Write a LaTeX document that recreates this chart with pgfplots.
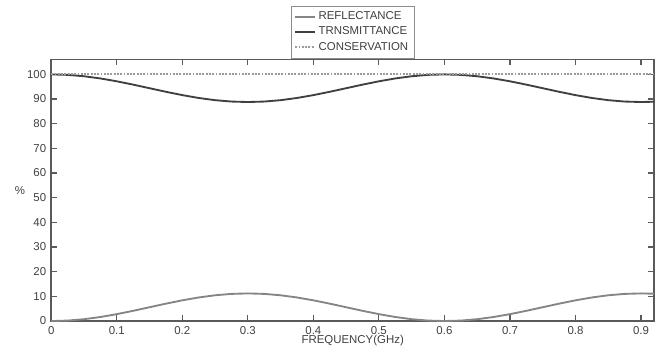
\documentclass[border=0pt]{standalone}
\usepackage{pgfplots}
\usepackage{pgfplotstable}
\pgfplotsset{compat=1.18}
\usepackage{fontspec}
\setmainfont{Liberation Sans}
\definecolor{refl}{HTML}{858585}
\definecolor{trans}{HTML}{404040}
\definecolor{cons}{HTML}{9A9A9A}
\definecolor{frame}{HTML}{5A5A5A}
\pgfplotstableread{
f R T
0 0 100
0.025 0.19 99.81
0.05 0.75 99.25
0.075 1.64 98.36
0.1 2.80 97.20
0.125 4.15 95.85
0.15 5.60 94.40
0.175 7.05 92.95
0.2 8.40 91.60
0.225 9.56 90.44
0.25 10.45 89.55
0.275 11.01 88.99
0.3 11.20 88.80
0.325 11.01 88.99
0.35 10.45 89.55
0.375 9.56 90.44
0.4 8.40 91.60
0.425 7.05 92.95
0.45 5.60 94.40
0.475 4.15 95.85
0.5 2.80 97.20
0.525 1.64 98.36
0.55 0.75 99.25
0.575 0.19 99.81
0.6 0 100
0.625 0.19 99.81
0.65 0.75 99.25
0.675 1.64 98.36
0.7 2.80 97.20
0.725 4.15 95.85
0.75 5.60 94.40
0.775 7.05 92.95
0.8 8.40 91.60
0.825 9.56 90.44
0.85 10.45 89.55
0.875 11.01 88.99
0.9 11.20 88.80
0.92 11.08 88.92
}\datatable
\begin{document}
\begin{tikzpicture}
\begin{axis}[
  width=467pt, height=228pt,
  xmin=0, xmax=0.92, ymin=0, ymax=106,
  xtick={0,0.1,...,0.9},
  ytick={0,10,...,100},
  xticklabel style={/pgf/number format/fixed},
  /pgf/number format/assume math mode=true,
  tick label style={font=\fontsize{8}{9}\selectfont, text=black!75},
  label style={font=\fontsize{8}{9}\selectfont, text=black!75},
  xlabel={FREQUENCY(GHz)},
  ylabel={\%},
  xlabel style={yshift=6pt},
  ylabel style={at={(axis description cs:-0.052,0.5)}, anchor=center, rotate=-90},
  tick align=inside,
  major tick length=4pt,
  tick style={frame, line width=0.8pt},
  axis line style={frame, line width=1.2pt},
  legend style={at={(0.5,1)}, anchor=south, yshift=1pt, draw=black!45,
    font=\fontsize{8}{10}\selectfont, text=black!75, row sep=-0.5pt, inner sep=2pt},
  legend cell align=left,
  legend image post style={xscale=0.8},
  after end axis/.code={\path (axis description cs:-0.085,0.5) (axis description cs:0.5,1.228);},
]
\addplot[refl, line width=1.3pt] table[x=f, y=R] {\datatable};
\addlegendentry{REFLECTANCE}
\addplot[trans, line width=1.3pt] table[x=f, y=T] {\datatable};
\addlegendentry{TRNSMITTANCE}
\addplot[cons, line width=1.3pt, densely dotted] coordinates {(0,100) (0.92,100)};
\addlegendentry{CONSERVATION}
\end{axis}
\end{tikzpicture}
\end{document}
